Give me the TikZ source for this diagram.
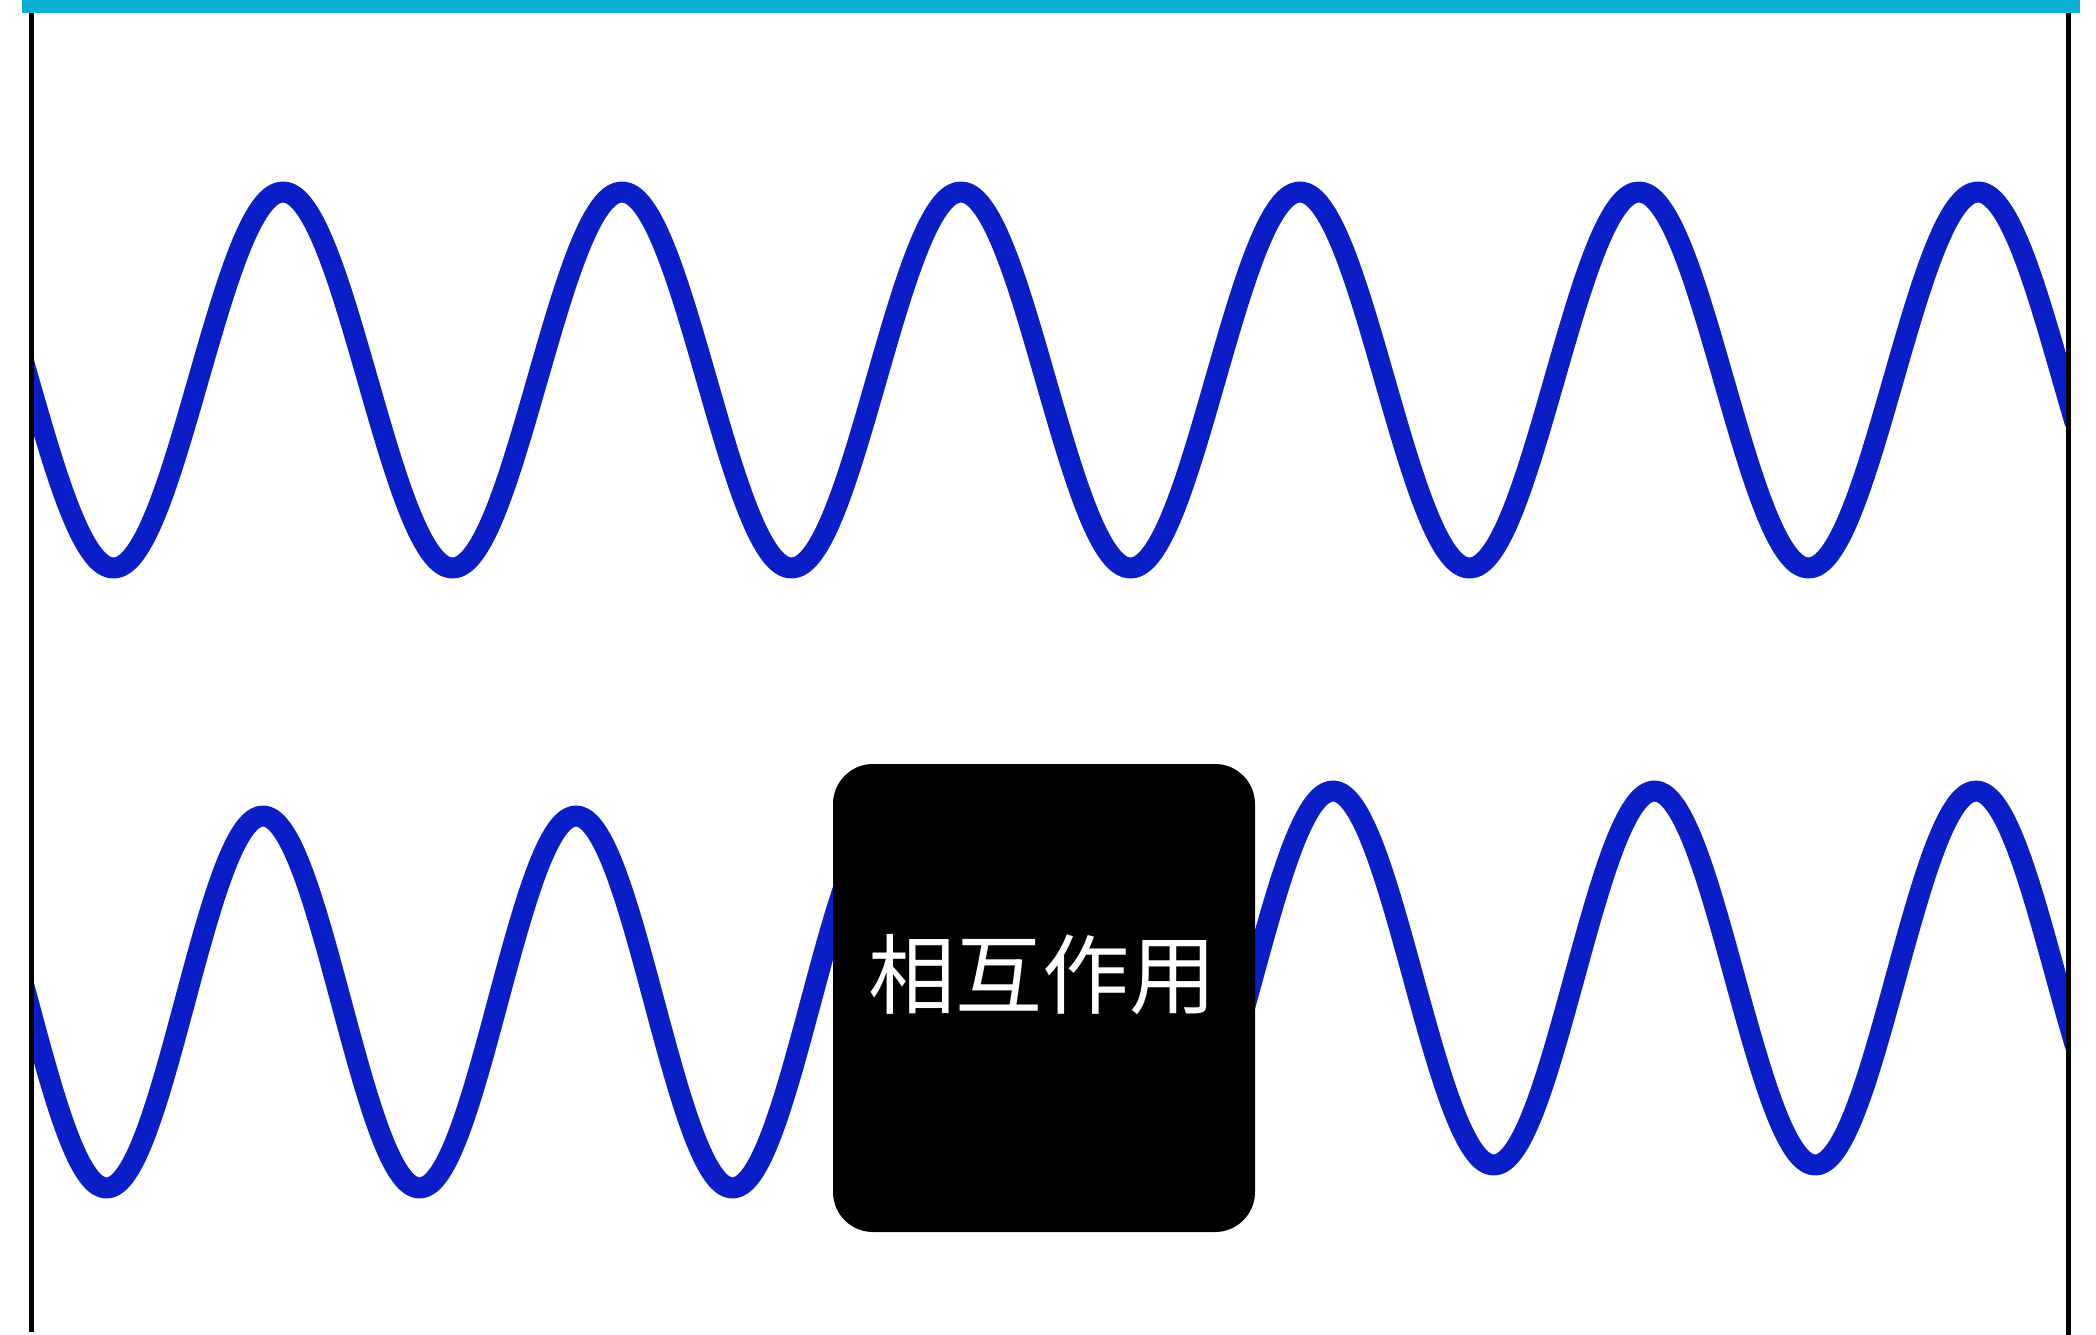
\documentclass[tikz,border=0pt]{standalone}
\usepackage{fontspec}
\newfontfamily\cjk{Noto Sans CJK SC}
\definecolor{barcyan}{RGB}{11,175,214}
\definecolor{waveblue}{RGB}{10,30,200}
\begin{document}
\begin{tikzpicture}[x=1pt,y=-1pt,
  wave/.style={draw=waveblue,line width=21pt,line join=round,line cap=round},
  edge/.style={draw=black,line width=5pt},
  blackbox/.style={fill=black,draw=none,rounded corners=40pt,minimum width=422pt,minimum height=468pt,inner sep=0pt},
  lbltext/.style={text=white,font=\cjk\fontsize{87}{100}\selectfont,inner sep=0pt}]
\useasboundingbox (0,0) rectangle (2096,1335);
% waves
\begin{scope}
\clip (31,0) rectangle (2068,1335);
\draw[wave] plot[domain=24:2075,samples=500,smooth] (\x,{380-188*cos(1.061947*(\x-283))});
\draw[wave] plot[domain=24:900,samples=250,smooth] (\x,{1002-186*cos(1.150160*(\x-263))});
\draw[wave] plot[domain=1200:2075,samples=250,smooth] (\x,{978-187*cos(1.119751*(\x-1333))});
\end{scope}
% interaction box
\node[blackbox] (box) at (1044,998) {};
\node[lbltext] (lbl) at (1042,975) {相互作用};
% side lines
\coordinate (lt) at (31,13);
\coordinate (lb) at (31,1332);
\coordinate (rt) at (2068,13);
\coordinate (rb) at (2068,1335);
\draw[edge] (lt) -- (lb);
\draw[edge] (rt) -- (rb);
% top bar
\fill[barcyan] (22,0) rectangle (2080,13);
\end{tikzpicture}
\end{document}
